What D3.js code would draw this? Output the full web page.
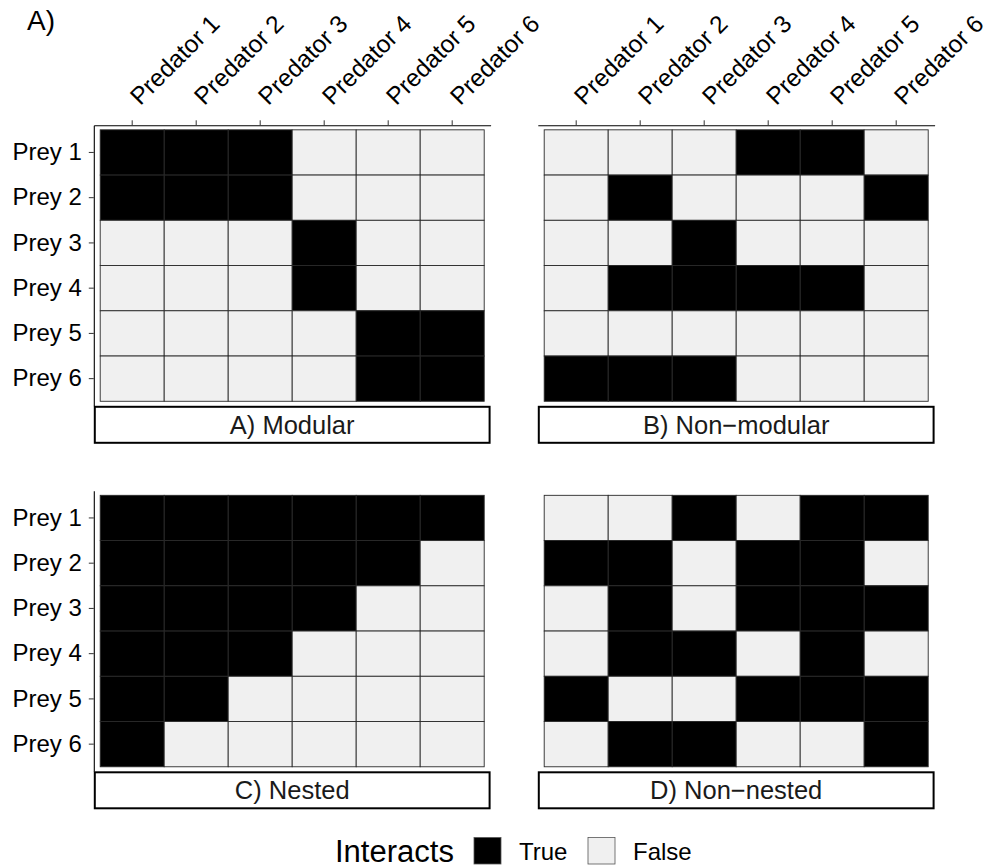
<!DOCTYPE html>
<html>
<head>
<meta charset="utf-8">
<script src="https://cdn.jsdelivr.net/npm/d3@7/dist/d3.min.js"></script>
<style>
  body { margin: 0; background: #fff; }
  text { font-family: "Liberation Sans", Arial, Helvetica, sans-serif; }
</style>
</head>
<body>
<svg id="chart" width="994" height="868"></svg>
<script>
// Categories
const predators = ["Predator 1", "Predator 2", "Predator 3", "Predator 4", "Predator 5", "Predator 6"];
const prey = ["Prey 1", "Prey 2", "Prey 3", "Prey 4", "Prey 5", "Prey 6"];
const panelTitles = ["A) Modular", "B) Non\u2212modular", "C) Nested", "D) Non\u2212nested"];
const legendLabels = ["True", "False"];

// Interaction matrices: rows = prey, columns = predators (1 = interacts)
const modular = [
  [1, 1, 1, 0, 0, 0],
  [1, 1, 1, 0, 0, 0],
  [0, 0, 0, 1, 0, 0],
  [0, 0, 0, 1, 0, 0],
  [0, 0, 0, 0, 1, 1],
  [0, 0, 0, 0, 1, 1]
];
const nonModular = [
  [0, 0, 0, 1, 1, 0],
  [0, 1, 0, 0, 0, 1],
  [0, 0, 1, 0, 0, 0],
  [0, 1, 1, 1, 1, 0],
  [0, 0, 0, 0, 0, 0],
  [1, 1, 1, 0, 0, 0]
];
const nested = [
  [1, 1, 1, 1, 1, 1],
  [1, 1, 1, 1, 1, 0],
  [1, 1, 1, 1, 0, 0],
  [1, 1, 1, 0, 0, 0],
  [1, 1, 0, 0, 0, 0],
  [1, 0, 0, 0, 0, 0]
];
const nonNested = [
  [0, 0, 1, 0, 1, 1],
  [1, 1, 0, 1, 1, 0],
  [0, 1, 0, 1, 1, 1],
  [0, 1, 1, 0, 1, 0],
  [1, 0, 0, 1, 1, 1],
  [0, 1, 1, 0, 0, 1]
];
const matrices = [modular, nonModular, nested, nonNested];

const svg = d3.select("#chart");

// Facet geometry
const colX = [93.8, 537.8];
const rowY = [125.3, 490.8];
const panelW = 396.8;
const panelH = 280.5;
const stripH = 38;

const fill = d3.scaleOrdinal().domain(["True", "False"]).range(["#000000", "#F0F0F0"]);

// Tag
svg.append("text")
  .attr("x", 27).attr("y", 30)
  .attr("font-size", 28).attr("fill", "#000")
  .text("A)");

matrices.forEach((m, i) => {
  const c = i % 2, r = Math.floor(i / 2);
  const x0 = colX[c], y0 = rowY[r];

  const x = d3.scaleBand().domain(predators).range([x0, x0 + panelW]).paddingInner(0).paddingOuter(0.1);
  const y = d3.scaleBand().domain(prey).range([y0, y0 + panelH]).paddingInner(0).paddingOuter(0.1);

  const cells = [];
  m.forEach((row, ri) => row.forEach((v, ci) => cells.push({ prey: prey[ri], pred: predators[ci], v: v ? "True" : "False" })));

  const g = svg.append("g");
  g.selectAll("rect.cell")
    .data(cells)
    .join("rect")
    .attr("class", "cell")
    .attr("x", d => x(d.pred))
    .attr("y", d => y(d.prey))
    .attr("width", x.bandwidth())
    .attr("height", y.bandwidth())
    .attr("fill", d => fill(d.v))
    .attr("stroke", "#2a2a2a")
    .attr("stroke-width", 0.9);

  // Top axis on upper panels
  if (r === 0) {
    const ax = svg.append("g")
      .attr("transform", `translate(0,${y0})`)
      .call(d3.axisTop(x).tickSize(5).tickSizeOuter(0));
    ax.select(".domain").attr("stroke", "#000").attr("stroke-width", 1.1);
    ax.selectAll(".tick line").attr("stroke", "#333").attr("stroke-width", 1);
    ax.selectAll(".tick text")
      .attr("x", 0).attr("y", 0).attr("dy", 0)
      .attr("text-anchor", "start")
      .attr("transform", "translate(8,-19) rotate(-45)")
      .attr("font-size", 24.5)
      .attr("font-family", "'Liberation Sans', Arial, Helvetica, sans-serif")
      .attr("fill", "#000");
  }

  // Left axis on left panels
  if (c === 0) {
    const ay = svg.append("g")
      .attr("transform", `translate(${x0},0)`)
      .call(d3.axisLeft(y).tickSize(5).tickSizeOuter(0).tickPadding(7));
    ay.select(".domain").attr("stroke", "#000").attr("stroke-width", 1.1);
    ay.selectAll(".tick line").attr("stroke", "#333").attr("stroke-width", 1);
    ay.selectAll(".tick text")
      .attr("font-size", 24)
      .attr("font-family", "'Liberation Sans', Arial, Helvetica, sans-serif")
      .attr("fill", "#000");
  }

  // Strip below each panel
  const sy = y0 + panelH;
  svg.append("rect")
    .attr("x", x0 + 1).attr("y", sy + 1)
    .attr("width", panelW - 2).attr("height", stripH - 2)
    .attr("fill", "#fff")
    .attr("stroke", "#000")
    .attr("stroke-width", 2);
  svg.append("text")
    .attr("x", x0 + panelW / 2)
    .attr("y", sy + stripH / 2 + 9)
    .attr("text-anchor", "middle")
    .attr("font-size", 25.5)
    .attr("fill", "#1a1a1a")
    .text(panelTitles[i]);
});

// Legend
const lg = svg.append("g");
lg.append("text")
  .attr("x", 335).attr("y", 862)
  .attr("font-size", 31).attr("fill", "#000")
  .text("Interacts");
const keyX = [474, 588];
legendLabels.forEach((lab, k) => {
  lg.append("rect")
    .attr("x", keyX[k]).attr("y", 837.5)
    .attr("width", 27).attr("height", 26.5)
    .attr("fill", fill(lab))
    .attr("stroke", "#555")
    .attr("stroke-width", 0.8);
  lg.append("text")
    .attr("x", keyX[k] + 45).attr("y", 860)
    .attr("font-size", 24).attr("fill", "#000")
    .text(lab);
});
</script>
</body>
</html>
